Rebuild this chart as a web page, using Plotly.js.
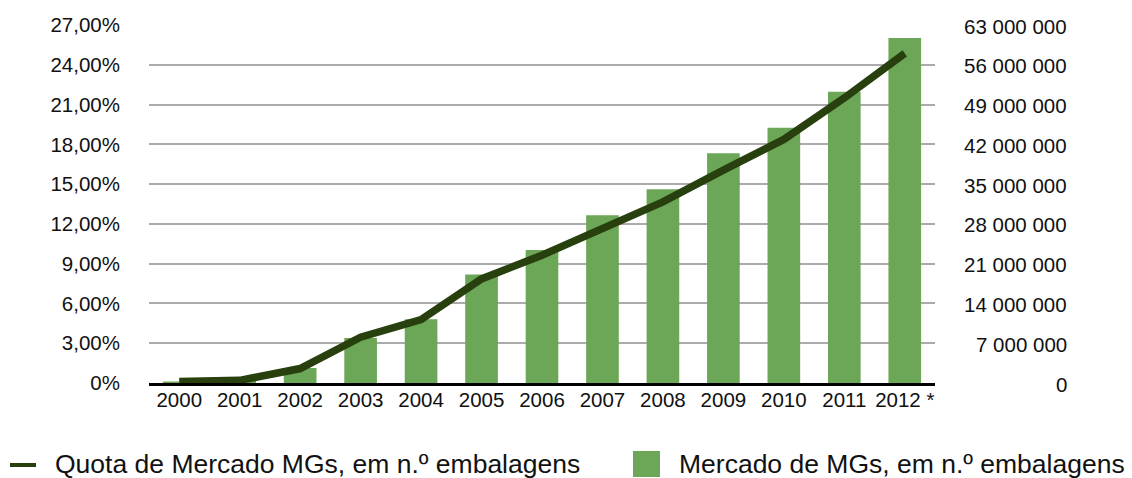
<!DOCTYPE html>
<html>
<head>
<meta charset="utf-8">
<script src="https://cdn.plot.ly/plotly-3.0.1.min.js"></script>
<style>html,body{margin:0;padding:0;background:#fff;}#chart{width:1132px;height:478px;}</style>
</head>
<body>
<div id="chart"></div>
<script>
// ---- data ----
var years = ['2000','2001','2002','2003','2004','2005','2006','2007','2008','2009','2010','2011','2012 *'];
var quotaPct = [0.12, 0.2, 1.09, 3.45, 4.78, 7.85, 9.64, 11.65, 13.66, 16.05, 18.37, 21.5, 24.86];
var mercadoMGs = [250000, 500000, 2640000, 7930000, 11200000, 19100000, 23400000, 29500000, 34100000, 40450000, 44900000, 51250000, 60700000];
var leftTickVals = [0, 3, 6, 9, 12, 15, 18, 21, 24, 27];
var leftTickText = ['0%', '3,00%', '6,00%', '9,00%', '12,00%', '15,00%', '18,00%', '21,00%', '24,00%', '27,00%'];
var rightTickVals = [0, 7000000, 14000000, 21000000, 28000000, 35000000, 42000000, 49000000, 56000000, 63000000];
var rightTickText = ['0', '7 000 000', '14 000 000', '21 000 000', '28 000 000', '35 000 000', '42 000 000', '49 000 000', '56 000 000', '63 000 000'];
var lineName = 'Quota de Mercado MGs, em n.º embalagens';
var barName = 'Mercado de MGs, em n.º embalagens';

// ---- style ----
var FONT = 'Liberation Sans, Arial, sans-serif';
var LINE_COLOR = '#283f0e';
var BAR_COLOR = '#6ca657';
var W = 1132, H = 478, ML = 149, MR = 197, MT = 25, MB = 95;
var PW = W - ML - MR, PH = H - MT - MB;
function px(x) { return (x - ML) / PW; }
function py(y) { return (H - MB - y) / PH; }

var traces = [
  {
    type: 'bar', x: years, y: mercadoMGs, name: barName, yaxis: 'y',
    marker: {color: BAR_COLOR, line: {width: 0}}, hoverinfo: 'x+y'
  },
  {
    type: 'scatter', mode: 'lines', x: years, y: quotaPct, name: lineName, yaxis: 'y2',
    line: {color: LINE_COLOR, width: 7.5}, hoverinfo: 'x+y'
  }
];

var annotations = rightTickVals.map(function (v, i) {
  return {
    xref: 'paper', yref: 'y', x: px(1069), y: v, xanchor: 'right', yanchor: 'middle',
    text: rightTickText[i], showarrow: false, yshift: -1,
    font: {family: FONT, size: 20.5, color: '#111'}
  };
});
annotations.push({
  xref: 'paper', yref: 'paper', x: px(53), y: py(464), xanchor: 'left', yanchor: 'middle',
  text: lineName, showarrow: false, font: {family: FONT, size: 26.5, color: '#111'}
});
annotations.push({
  xref: 'paper', yref: 'paper', x: px(677), y: py(464), xanchor: 'left', yanchor: 'middle',
  text: barName, showarrow: false, font: {family: FONT, size: 26.5, color: '#111'}
});

var shapes = [
  {type: 'line', xref: 'paper', yref: 'paper', x0: px(10), x1: px(36), y0: py(465), y1: py(465),
   line: {color: LINE_COLOR, width: 4}},
  {type: 'rect', xref: 'paper', yref: 'paper', x0: px(633), x1: px(660), y0: py(477), y1: py(451),
   fillcolor: BAR_COLOR, line: {width: 0}}
];

var layout = {
  width: W, height: H,
  margin: {l: ML, r: MR, t: MT, b: MB, pad: 0},
  paper_bgcolor: '#ffffff', plot_bgcolor: '#ffffff',
  showlegend: false,
  bargap: 0.46,
  font: {family: FONT, size: 20.5, color: '#111'},
  xaxis: {
    type: 'category', showgrid: false, zeroline: false,
    showline: true, linecolor: '#000', linewidth: 2.5, layer: 'below traces',
    ticks: '', ticklabelstandoff: -3, tickfont: {family: FONT, size: 20.5, color: '#111'}, fixedrange: true
  },
  yaxis: {
    side: 'right', range: [0, 63000000], tickvals: rightTickVals, showticklabels: false,
    showgrid: true, gridcolor: '#ababab', gridwidth: 2, zeroline: false, showline: false,
    ticks: '', fixedrange: true
  },
  yaxis2: {
    overlaying: 'y', side: 'left', range: [0, 27], tickvals: leftTickVals, ticktext: leftTickText,
    showgrid: false, zeroline: false, showline: false, ticks: '', ticklabelstandoff: 28,
    tickfont: {family: FONT, size: 20.5, color: '#111'}, fixedrange: true
  },
  annotations: annotations,
  shapes: shapes
};

Plotly.newPlot('chart', traces, layout, {displayModeBar: false, staticPlot: true});
</script>
</body>
</html>
